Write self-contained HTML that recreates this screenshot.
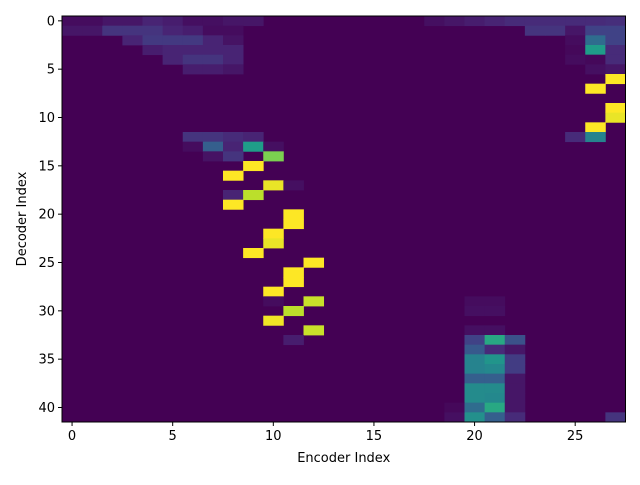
<!DOCTYPE html>
<html><head><meta charset="utf-8"><style>
body{margin:0;background:#fff;}
svg text{font-family:"DejaVu Sans","Liberation Sans",sans-serif;font-size:13px;fill:#000;}
</style></head><body>
<svg id="chart" width="640" height="480" xmlns="http://www.w3.org/2000/svg">
<rect width="640" height="480" fill="#fff"/>
<g id="cells"></g>
<g id="axes"></g>
</svg>
<script>
const nRows = 42;
const nCols = 28;
const xTicks = [0,5,10,15,20,25];
const yTicks = [0,5,10,15,20,25,30,35,40];
// sparse non-zero cells: [row, col, value]
const cellRows = [0,0,0,0,0,0,0,0,0,0,0, 1,1,1,1,1,1,1,1,1, 2,2,2,2,2,2, 3,3,3,3,3, 4,4,4,4, 5,5,5,
 0,0,0,0,0,0,0,0,0,0, 1,1,1,1,1, 2,2,2, 3,3,3, 4,4,4, 5,5, 6,7,9,10,11,12,12,
 12,12,12,12, 13,13,13,13,13, 14,14,14, 15,16,17,17,18,18,19,20,21,22,23,24,25,26,27,28,29,29,30,31,32,33,
 29,29,30,30,32,32, 33,33,33, 34,34,34, 35,35,35, 36,36,36, 37,37,37, 38,38,38, 39,39,39, 40,40,40,40, 41,41,41,41,41];
const cellCols = [0,1,2,3,4,5,6,7,8,9,1, 0,1,2,3,4,5,6,7,8, 3,4,5,6,7,8, 4,5,6,7,8, 5,6,7,8, 6,7,8,
 18,19,20,21,22,23,24,25,26,27, 23,24,25,26,27, 25,26,27, 25,26,27, 25,26,27, 26,27, 27,26,27,27,26,25,26,
 6,7,8,9, 6,7,8,9,10, 7,8,10, 9,8,10,11,8,9,8,11,11,10,10,9,12,11,11,10,10,12,11,10,12,11,
 20,21,20,21,20,21, 20,21,22, 20,21,22, 20,21,22, 20,21,22, 20,21,22, 20,21,22, 20,21,22, 19,20,21,22, 19,20,21,22,27];
const cellValues = [0.03,0.03,0.06,0.06,0.1,0.08,0.04,0.04,0.06,0.06,0.03, 0.06,0.06,0.15,0.15,0.15,0.1,0.08,0.03,0.03, 0.1,0.17,0.17,0.17,0.1,0.05, 0.08,0.1,0.1,0.1,0.1, 0.1,0.15,0.15,0.1, 0.08,0.08,0.06,
 0.04,0.06,0.08,0.1,0.12,0.12,0.12,0.12,0.12,0.13, 0.15,0.15,0.06,0.2,0.2, 0.03,0.35,0.2, 0.02,0.55,0.12, 0.03,0.02,0.12, 0.04,0.06, 1,1,1,0.97,1,0.12,0.45,
 0.15,0.15,0.12,0.1, 0.03,0.3,0.1,0.55,0.04, 0.05,0.15,0.8, 1,1,0.97,0.04,0.1,0.9,1,1,1,1,0.97,1,1,1,1,1,0.03,0.92,0.9,0.98,0.92,0.08,
 0.03,0.03,0.04,0.04,0.04,0.04, 0.2,0.6,0.25, 0.28,0.12,0.06, 0.45,0.52,0.18, 0.45,0.47,0.18, 0.3,0.3,0.06, 0.48,0.48,0.06, 0.48,0.47,0.06, 0.02,0.35,0.6,0.06, 0.04,0.5,0.3,0.12,0.15];

const L=62, R=625.5, T=16, B=422;
const cw=(R-L)/nCols, ch=(B-T)/nRows;
const xPos=c=>L+c*cw, yPos=r=>T+r*ch;
const stops=[[68,1,84],[72,40,120],[62,73,137],[49,104,142],[38,130,142],[31,158,137],[53,183,121],[109,205,89],[180,222,44],[253,231,37]];
function viridis(v){v=Math.max(0,Math.min(1,v));const p=v*9,i=Math.min(8,Math.floor(p)),f=p-i;
 const a=stops[i],b=stops[i+1];return `rgb(${a.map((x,k)=>Math.round(x+(b[k]-x)*f)).join(',')})`;}
const NS='http://www.w3.org/2000/svg';
const cells=document.getElementById('cells'), axes=document.getElementById('axes');
function mk(tag,attrs,parent){const e=document.createElementNS(NS,tag);for(const k in attrs)e.setAttribute(k,attrs[k]);parent.appendChild(e);return e;}
const bg=mk('rect',{x:L,y:T,width:R-L,height:B-T,fill:viridis(0)},cells);


for(let i=0;i<cellValues.length;i++){
 const e=mk('rect',{x:xPos(cellCols[i]),y:yPos(cellRows[i]),width:cw+0.4,height:ch+0.4,fill:viridis(cellValues[i])},cells);
 
 
}
const frame=mk('rect',{x:L,y:T,width:R-L,height:B-T,fill:'none',stroke:'#000','stroke-width':1},axes);


xTicks.forEach(t=>{const x=xPos(t+0.5);
 const l=mk('line',{x1:x,x2:x,y1:B,y2:B+4,stroke:'#000'},axes);
 
 
 const s=mk('text',{x:x,y:B+18,'text-anchor':'middle'},axes);s.textContent=t;
 
 
});
yTicks.forEach(t=>{const y=yPos(t+0.5);
 const l=mk('line',{x1:L-4,x2:L,y1:y,y2:y,stroke:'#000'},axes);
 
 
 const s=mk('text',{x:L-7,y:y+4.5,'text-anchor':'end'},axes);s.textContent=t;
 
 
});
const xl=mk('text',{x:(L+R)/2,y:462,'text-anchor':'middle'},axes);xl.textContent='Encoder Index';


const yl=mk('text',{x:0,y:0,'text-anchor':'middle',transform:`translate(26,${(T+B)/2}) rotate(-90)`},axes);yl.textContent='Decoder Index';


</script>
</body></html>
